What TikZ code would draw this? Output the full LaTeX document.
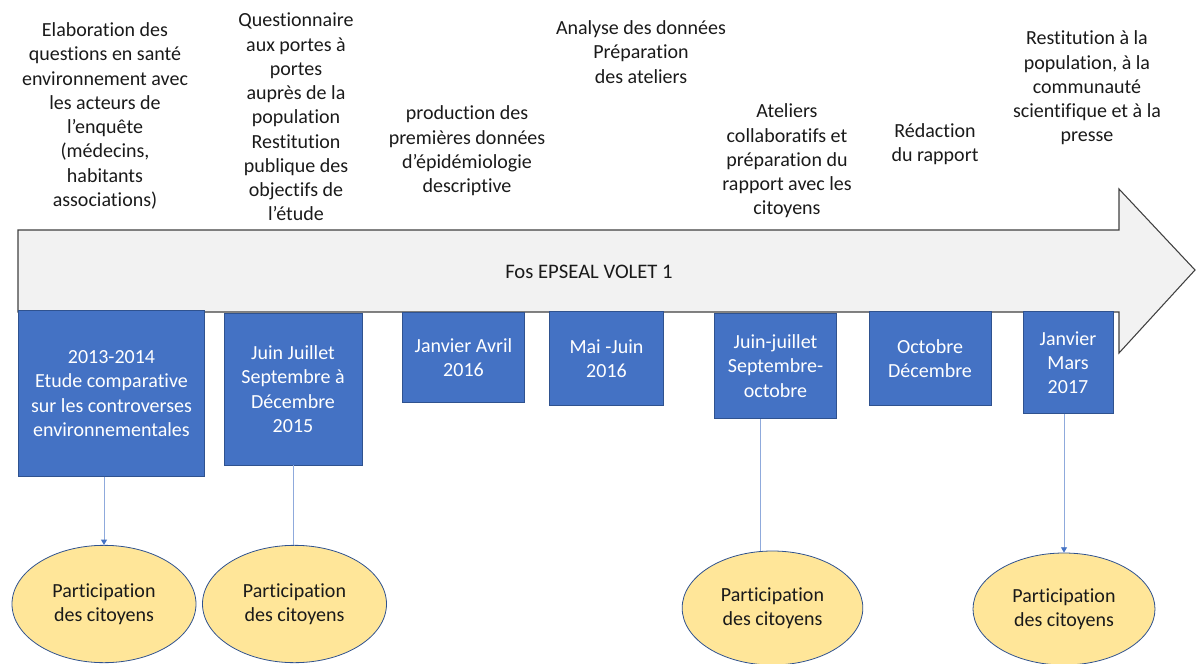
\documentclass[tikz,border=0pt]{standalone}
\usepackage{fontspec}
\setmainfont[Ligatures=NoCommon]{Carlito}
\usetikzlibrary{shapes.geometric,arrows.meta}
\definecolor{boxblue}{HTML}{4472C4}
\definecolor{boxedge}{HTML}{2F528F}
\definecolor{linkblue}{HTML}{8FAADC}
\definecolor{partyellow}{HTML}{FFE699}
\definecolor{shaftgrey}{HTML}{F2F2F2}
\definecolor{txt}{HTML}{1A1A1A}
\tikzset{
  step label/.style={align=center,text=txt,font=\fontsize{15}{18.2}\selectfont,inner sep=0pt},
  datebox/.style={rectangle,draw=boxedge,line width=0.6pt,fill=boxblue,text=white,align=center,
    font=\fontsize{15}{18.2}\selectfont,inner sep=0pt},
  partbox/.style={ellipse,draw=boxedge,line width=0.6pt,fill=partyellow,text=txt,align=center,
    font=\fontsize{15}{18.2}\selectfont,inner sep=0pt,minimum width=138pt,minimum height=88pt},
  link/.style={draw=linkblue,line width=0.7pt},
  linkarrow/.style={link,-{Triangle[length=4pt,width=4.5pt,fill=boxblue,color=boxblue]}}
}
\begin{document}
\begin{tikzpicture}[x=0.75pt,y=-0.75pt]
\useasboundingbox (0,0) rectangle (1197,664);

% Timeline arrow
\draw[fill=shaftgrey,draw=black!75,line width=0.8pt,line join=miter]
  (18,230) -- (1119,230) -- (1119,189) -- (1195,270) -- (1119,353) -- (1119,312) -- (18,312) -- cycle;
\node[font=\fontsize{15.5}{18}\selectfont,text=txt] (title) at (589,272) {Fos EPSEAL VOLET 1};

% Steps above the arrow
\node[step label] (t1) at (105,116) {Elaboration des\\questions en santé\\environnement avec\\les acteurs de\\l’enquête\\(médecins,\\habitants\\associations)};
\node[step label] (t2) at (296,117) {Questionnaire\\aux portes à\\portes\\auprès de la\\population\\Restitution\\publique des\\objectifs de\\l’étude};
\node[step label] (t3) at (467,151) {production des\\premières données\\d’épidémiologie\\descriptive};
\node[step label] (t4) at (641,52) {Analyse des données\\Préparation\\des ateliers};
\node[step label] (t5) at (787,161) {Ateliers\\collaboratifs et\\préparation du\\rapport avec les\\citoyens};
\node[step label] (t6) at (935,144) {Rédaction\\du rapport};
\node[step label] (t7) at (1087,88) {Restitution à la\\population, à la\\communauté\\scientifique et à la\\presse};

% Date boxes
\node[datebox,minimum width=140pt,minimum height=124pt] (b1) at (111.5,393.5) {2013-2014\\Etude comparative\\sur les controverses\\environnementales};
\node[datebox,minimum width=103.5pt,minimum height=114pt] (b2) at (293,389) {Juin Juillet\\Septembre à\\Décembre\\2015};
\node[datebox,minimum width=92pt,minimum height=68pt] (b3) at (463.5,357.5) {Janvier Avril\\2016};
\node[datebox,minimum width=86pt,minimum height=70pt] (b4) at (606.5,358.5) {Mai -Juin\\2016};
\node[datebox,minimum width=92pt,minimum height=79pt] (b5) at (775.5,366) {Juin-juillet\\Septembre-\\octobre};
\node[datebox,minimum width=91.5pt,minimum height=70pt] (b6) at (930,358.5) {Octobre\\Décembre};
\node[datebox,minimum width=67.5pt,minimum height=76pt] (b7) at (1068,362.5) {Janvier\\Mars\\2017};

% Citizen participation
\node[partbox] (e1) at (104,604) {Participation\\des citoyens};
\node[partbox] (e2) at (294.5,604) {Participation\\des citoyens};
\node[partbox,minimum width=135.5pt,minimum height=85.5pt] (e3) at (772.5,608) {Participation\\des citoyens};
\node[partbox,minimum width=136.5pt,minimum height=84pt] (e4) at (1064,609) {Participation\\des citoyens};

% Links
\draw[linkarrow] (e1.north |- b1.south) -- (e1.north);
\draw[link] (b2.south) -- (b2.south |- e2.north);
\draw[link] ([xshift=-11pt]b5.south) -- ([xshift=-11pt]b5.south |- e3.north);
\draw[linkarrow] (e4.north |- b7.south) -- (e4.north);

\end{tikzpicture}
\end{document}
